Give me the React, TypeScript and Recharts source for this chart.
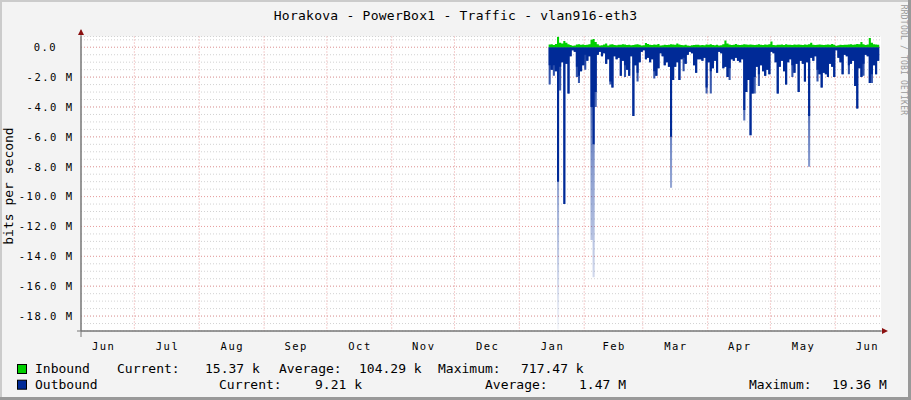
import React from "react";
import { AreaChart, Area, XAxis, YAxis, CartesianGrid } from "recharts";

const MONO = "'DejaVu Sans Mono', monospace";

// month ticks, as day offsets from 1 Jul (first entry is the previous June)
const monthLabels = ["Jun", "Jul", "Aug", "Sep", "Oct", "Nov", "Dec", "Jan", "Feb", "Mar", "Apr", "May", "Jun"];
const monthStarts = [-30, 0, 31, 62, 92, 123, 153, 184, 215, 243, 274, 304, 335];
const monthDays = [30, 31, 31, 30, 31, 30, 31, 31, 28, 31, 30, 31, 30];
const viewDays: [number, number] = [-25.5, 356.85];

// one value per day, starting mid January (Mbit/s)
const firstDay = 198;
const inboundM = [
  0.18, 0.2, 0.15, 0.22, 0.7, 0.3, 0.25, 0.42, 0.3, 0.2,
  0.15, 0.1, 0.12, 0.18, 0.2, 0.16, 0.19, 0.15, 0.17, 0.2,
  0.5, 0.55, 0.35, 0.2, 0.12, 0.14, 0.18, 0.25, 0.12, 0.18,
  0.2, 0.15, 0.13, 0.17, 0.16, 0.2, 0.18, 0.15, 0.16, 0.14,
  0.15, 0.18, 0.2, 0.17, 0.12, 0.14, 0.28, 0.22, 0.16, 0.15,
  0.18, 0.17, 0.22, 0.12, 0.14, 0.16, 0.15, 0.17, 0.2, 0.18,
  0.16, 0.25, 0.18, 0.15, 0.14, 0.16, 0.12, 0.1, 0.13, 0.15,
  0.17, 0.16, 0.14, 0.15, 0.13, 0.18, 0.16, 0.2, 0.15, 0.14,
  0.17, 0.12, 0.13, 0.2, 0.45, 0.25, 0.18, 0.15, 0.16, 0.22,
  0.16, 0.15, 0.17, 0.2, 0.18, 0.16, 0.19, 0.17, 0.15, 0.16,
  0.2, 0.17, 0.15, 0.18, 0.16, 0.2, 0.38, 0.15, 0.14, 0.17,
  0.16, 0.18, 0.15, 0.2, 0.17, 0.16, 0.15, 0.18, 0.16, 0.19,
  0.17, 0.15, 0.18, 0.16, 0.2, 0.3, 0.17, 0.15, 0.16, 0.18,
  0.17, 0.15, 0.16, 0.18, 0.17, 0.22, 0.16, 0.1, 0.14, 0.16,
  0.15, 0.17, 0.16, 0.18, 0.2, 0.17, 0.19, 0.22, 0.2, 0.35,
  0.2, 0.15, 0.18, 0.62, 0.3, 0.2, 0.18, 0.16, 0.15,
];
const outboundM = [
  1.2, 1.5, 1.2, 1.6, 9.0, 1.3, 1.0, 10.5, 1.1, 3.1,
  0.6, 0.2, 0.3, 1.3, 1.9, 1.6, 1.2, 0.5, 0.9, 0.6,
  4.0, 6.5, 3.0, 0.5, 0.3, 0.6, 0.4, 1.1, 0.8, 2.3,
  2.7, 0.6, 0.8, 0.7, 1.9, 0.9, 1.2, 1.5, 1.9, 0.6,
  4.6, 1.2, 1.7, 1.0, 0.3, 0.2, 0.8, 0.7, 1.0, 0.8,
  1.6, 1.9, 1.4, 0.4, 0.6, 1.2, 1.0, 1.3, 6.0, 2.2,
  1.3, 1.0, 2.2, 0.8, 0.7, 1.1, 0.5, 0.3, 0.4, 1.2,
  1.7, 0.8, 0.8, 0.9, 0.7, 2.7, 1.0, 1.6, 1.4, 0.9,
  1.7, 0.3, 0.4, 1.4, 1.3, 2.0, 1.4, 0.8, 0.9, 0.7,
  0.9, 1.0, 0.8, 4.2, 3.0, 2.2, 5.9, 3.1, 2.0, 1.3,
  1.8, 1.2, 1.6, 1.9, 1.5, 1.8, 0.3, 0.4, 1.0, 3.1,
  1.3, 0.9, 1.6, 2.5, 1.0, 0.8, 1.2, 1.7, 1.1, 3.0,
  0.9, 1.1, 2.3, 1.0, 4.6, 0.7, 0.9, 0.6, 1.5, 1.8,
  2.7, 1.7, 1.8, 2.0, 1.1, 1.3, 2.0, 0.2, 0.7, 1.0,
  1.8, 0.5, 0.6, 1.2, 1.1, 0.9, 2.6, 4.1, 1.4, 2.0,
  1.1, 0.5, 0.6, 2.4, 1.8, 1.2, 1.8, 0.9, 0.8,
];
// short-lived peaks that show as faded tails below the average: [day index, Mbit/s]
const outboundPeaks: [number, number][] = [
  [0, 2.5], [2, 1.9], [4, 18.9], [5, 2.9], [13, 2.0], [14, 2.4], [17, 1.5],
  [20, 12.9], [21, 15.4], [22, 4.0], [29, 2.5], [36, 2.0], [42, 2.3], [50, 2.1],
  [58, 9.4], [64, 1.6], [75, 3.1], [77, 3.1], [86, 2.2], [93, 4.9], [98, 3.1],
  [100, 2.6], [116, 2.0], [124, 8.0], [128, 2.3], [143, 1.8], [150, 1.9], [154, 2.4],
];

const yMinorM = Array.from({ length: 40 }, (_, i) => 0.5 - i * 0.5);
const yMajorM = [0, -2, -4, -6, -8, -10, -12, -14, -16, -18];
const yDomain: [number, number] = [-19e6, 0.72e6];

const legendRows = [
  { name: "Inbound", color: "#00CF00", items: [["Current:", 117], ["15.37 k", 205], ["Average:", 279], ["104.29 k", 359], ["Maximum:", 438], ["717.47 k", 521]] },
  { name: "Outbound", color: "#002A97", items: [["Current:", 219], ["9.21 k", 315], ["Average:", 485], ["1.47 M", 579], ["Maximum:", 749], ["19.36 M", 832]] },
];

const peakMap = new Map(outboundPeaks);
const data = outboundM.map((v, i) => ({
  day: firstDay + i,
  inbound: inboundM[i] * 1e6,
  outbound: -v * 1e6,
  peak: -(peakMap.get(i) ?? v) * 1e6,
}));
const monthMids = monthStarts.map((s, i) => s + monthDays[i] / 2);
const monthLines = monthStarts.slice(1);

const XTick = ({ x, y, index }: any) => (
  <text x={x + 0.7} y={y} dy={19} textAnchor="middle" fontFamily={MONO} fontSize={10.5} letterSpacing={1.5} fill="#000">
    {monthLabels[index]}
  </text>
);

const YTick = ({ x, y, payload }: any) => {
  const v = payload.value / 1e6;
  if (!yMajorM.includes(v)) return <g />;
  const label = v === 0 ? "0.0" : `${v.toFixed(1)} M`;
  return (
    <text x={v === 0 ? x - 23.8 : x - 7.5} y={y} dy="0.36em" textAnchor="end" fontFamily={MONO} fontSize={10.5} letterSpacing={1.5} fill="#000">
      {label}
    </text>
  );
};

export default function App() {
  return (
    <div style={{ position: "absolute", left: 0, top: 0, width: 911, height: 400, background: "#f3f3f3" }}>
      <AreaChart width={911} height={400} data={data} margin={{ top: 36.5, right: 30, bottom: 49, left: 0 }}>
        <defs>
          <linearGradient id="tailFade" x1="0" y1="0" x2="0" y2="1">
            <stop offset="0%" stopColor="#002A97" stopOpacity={0.9} />
            <stop offset="45%" stopColor="#002A97" stopOpacity={0.45} />
            <stop offset="100%" stopColor="#002A97" stopOpacity={0.04} />
          </linearGradient>
        </defs>
        <CartesianGrid vertical={false} fill="#ffffff" stroke="#d2d2d2" strokeDasharray="1 2" />
        <CartesianGrid
          horizontalValues={yMajorM.map((v) => v * 1e6)}
          verticalValues={monthLines}
          stroke="#eba0a0"
          strokeDasharray="1 2"
        />
        <XAxis
          type="number"
          dataKey="day"
          domain={viewDays}
          allowDataOverflow
          ticks={monthMids}
          interval={0}
          tick={<XTick />}
          tickLine={false}
          tickSize={0}
          tickMargin={0}
          height={20}
          axisLine={{ stroke: "#777777" }}
        />
        <YAxis
          type="number"
          domain={yDomain}
          allowDataOverflow
          ticks={yMinorM.map((v) => v * 1e6)}
          interval={0}
          tick={<YTick />}
          tickLine={false}
          tickSize={0}
          tickMargin={0}
          width={81}
          axisLine={{ stroke: "#777777" }}
        />
        <Area dataKey="peak" type="stepAfter" fill="url(#tailFade)" fillOpacity={1} stroke="none" isAnimationActive={false} />
        <Area dataKey="outbound" type="stepAfter" fill="#002A97" fillOpacity={1} stroke="none" isAnimationActive={false} />
        <Area dataKey="inbound" type="stepAfter" fill="#00CF00" fillOpacity={1} stroke="none" isAnimationActive={false} />
      </AreaChart>
      <svg width={911} height={400} style={{ position: "absolute", left: 0, top: 0, pointerEvents: "none" }}>
        <rect x={0} y={0} width={911} height={2} fill="#cbcbcb" />
        <rect x={0} y={0} width={2} height={400} fill="#cbcbcb" />
        <rect x={908} y={0} width={3} height={400} fill="#999999" />
        <rect x={0} y={397} width={911} height={3} fill="#999999" />
        <text x={455.5} y={19.5} textAnchor="middle" fontFamily={MONO} fontSize={13} letterSpacing={0.25} fill="#000">
          Horakova - PowerBox1 - Traffic - vlan916-eth3
        </text>
        <text x={12.5} y={186} transform="rotate(-90 12.5 186)" textAnchor="middle" fontFamily={MONO} fontSize={13} fill="#000">
          bits per second
        </text>
        <text x={901} y={60} transform="rotate(90 901 60)" textAnchor="middle" fontFamily={MONO} fontSize={8} letterSpacing={0.2} fill="#9a9a9a">
          RRDTOOL / TOBI OETIKER
        </text>
        <line x1={81} y1={30} x2={81} y2={337} stroke="#777777" />
        <line x1={77} y1={331} x2={884} y2={331} stroke="#777777" />
        <polygon points="78,35 84,35 81,29" fill="#8b1010" />
        <polygon points="882,328 882,334 888,331" fill="#8b1010" />
        {legendRows.map((row, r) => {
          const base = 373.3 + r * 15.7;
          return (
            <g key={row.name}>
              <rect x={17.5} y={base - 8.8} width={9} height={9} fill={row.color} stroke="#000" strokeWidth={1} />
              <text x={35} y={base} fontFamily={MONO} fontSize={13} fill="#000">{row.name}</text>
              {row.items.map(([t, x]) => (
                <text key={String(t) + x} x={x as number} y={base} fontFamily={MONO} fontSize={13} fill="#000">{t}</text>
              ))}
            </g>
          );
        })}
      </svg>
    </div>
  );
}
